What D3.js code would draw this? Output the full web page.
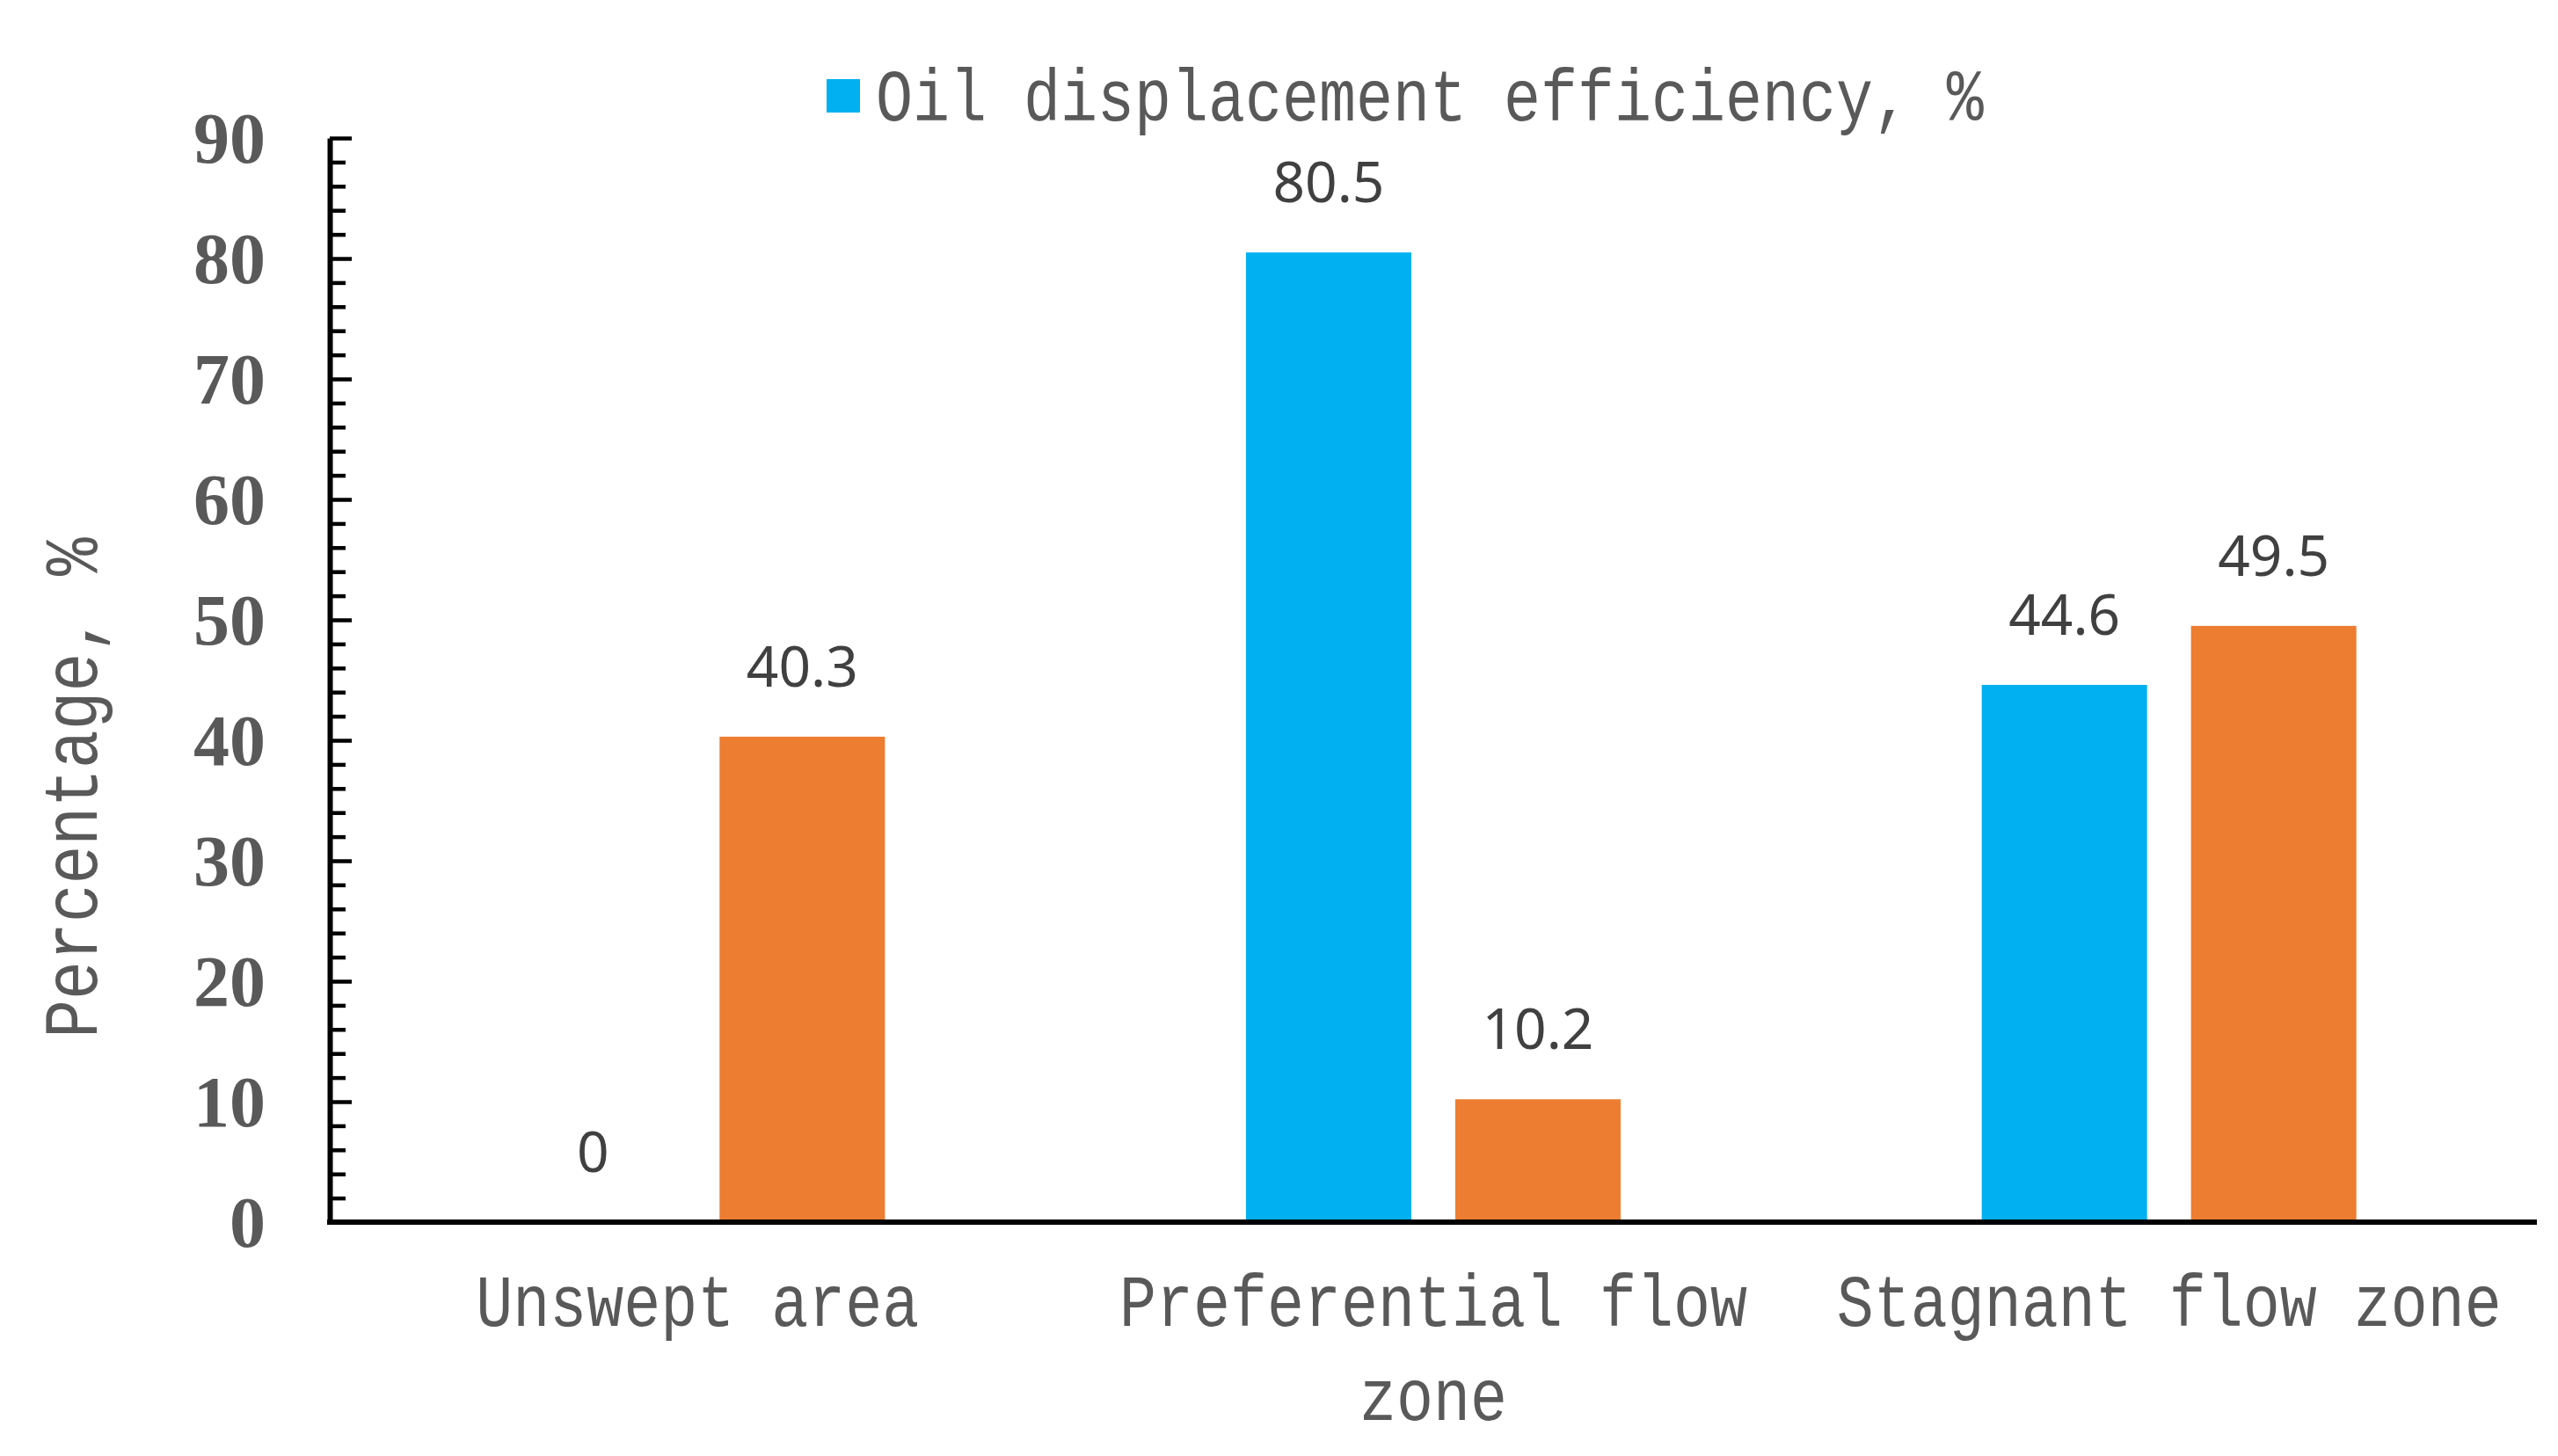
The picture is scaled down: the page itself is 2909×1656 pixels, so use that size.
<!DOCTYPE html>
<html>
<head>
<meta charset="utf-8">
<script src="https://cdn.jsdelivr.net/npm/d3@7"></script>
<style>
  html, body { margin: 0; padding: 0; background: #ffffff; }
  svg { display: block; }
</style>
</head>
<body>
<svg id="chart" width="2909" height="1656"></svg>
<script>
// ---- data ----
const categories = ["Unswept area", "Preferential flow zone", "Stagnant flow zone"];
const seriesNames = ["Oil displacement efficiency, %", "Share, %"];
const oilDisplacementEfficiency = [0, 80.5, 44.6];
const secondSeries = [40.3, 10.2, 49.5];
const yTicks = [0, 10, 20, 30, 40, 50, 60, 70, 80, 90];
const legendEntries = ["Oil displacement efficiency, %"];
const yTitle = "Percentage, %";

const colors = ["#00B0F0", "#ED7D31"];
const textGray = "#595959";
const labelGray = "#404040";
const monoFont = "'Liberation Mono', 'DejaVu Sans Mono', monospace";
const stretch = 1.2;

const svg = d3.select("#chart");
const W = 2909, H = 1656;
svg.append("rect").attr("width", W).attr("height", H).attr("fill", "#fff");

const plot = { left: 375, right: 2885, top: 157, bottom: 1390 };

const x = d3.scaleBand().domain(categories).range([plot.left, plot.right]).paddingInner(0).paddingOuter(0);
const xs = d3.scaleBand().domain([0, 1]).range([0, x.bandwidth()]).paddingInner(0.21).paddingOuter(0.8627);
const y = d3.scaleLinear().domain([0, 90]).range([plot.bottom, plot.top]);

const rows = categories.map((c, i) => ({ cat: c, vals: [oilDisplacementEfficiency[i], secondSeries[i]] }));

// ---- bars ----
const groups = svg.append("g").selectAll("g").data(rows).join("g")
  .attr("transform", d => `translate(${x(d.cat)},0)`);
groups.selectAll("rect").data(d => d.vals.map((v, k) => ({ v, k }))).join("rect")
  .attr("x", d => xs(d.k))
  .attr("width", xs.bandwidth())
  .attr("y", d => y(d.v))
  .attr("height", d => y(0) - y(d.v))
  .attr("fill", d => colors[d.k]);

// ---- data labels ----
groups.selectAll("text.val").data(d => d.vals.map((v, k) => ({ v, k }))).join("text")
  .attr("class", "val")
  .attr("x", d => xs(d.k) + xs.bandwidth() / 2)
  .attr("y", d => y(d.v) - 57)
  .attr("text-anchor", "middle")
  .attr("font-family", "'Noto Sans', 'Open Sans', sans-serif")
  .attr("font-size", 64)
  .attr("fill", labelGray)
  .text(d => String(d.v));

// ---- y axis ----
const minorTicks = d3.range(0, 91, 2).filter(v => v % 10 !== 0);
const yMinor = svg.append("g").attr("transform", `translate(${plot.left},0)`)
  .call(d3.axisLeft(y).tickValues(minorTicks).tickSize(-18).tickFormat(""));
yMinor.select(".domain").remove();
yMinor.selectAll(".tick line").attr("stroke", "#000").attr("stroke-width", 4.5);

const yMajor = svg.append("g").attr("transform", `translate(${plot.left},0)`)
  .call(d3.axisLeft(y).tickValues(yTicks).tickSize(-25).tickSizeOuter(0).tickPadding(73).tickFormat(d3.format("d")));
yMajor.select(".domain").attr("stroke", "#000").attr("stroke-width", 6);
yMajor.selectAll(".tick line").attr("stroke", "#000").attr("stroke-width", 4.5);
yMajor.selectAll(".tick text")
  .attr("font-family", "'Liberation Serif', 'Times New Roman', serif")
  .attr("font-weight", "bold")
  .attr("font-size", 82)
  .attr("fill", textGray)
  .attr("dy", "0.34em");

// ---- x axis ----
const xAxis = svg.append("g").attr("transform", `translate(0,${plot.bottom})`)
  .call(d3.axisBottom(x).tickSize(0).tickSizeOuter(0).tickFormat(""));
xAxis.select(".domain").attr("stroke", "#000").attr("stroke-width", 6)
  .attr("d", `M${plot.left - 3},0H${plot.right}`);

// stretched mono text helper
function monoText(parent, tx, ty, str, size, anchor, rotate) {
  const g = parent.append("g")
    .attr("transform", `translate(${tx},${ty})` + (rotate ? ` rotate(${rotate})` : "") + ` scale(1,${stretch})`);
  return g.append("text")
    .attr("x", 0).attr("y", 0)
    .attr("text-anchor", anchor)
    .attr("font-family", monoFont)
    .attr("font-size", size)
    .attr("fill", textGray)
    .text(str);
}

// category labels with wrapping
const measure = svg.append("text").attr("font-family", monoFont).attr("font-size", 70).attr("visibility", "hidden");
function wrapLines(str, maxW) {
  const words = str.split(" ");
  const lines = [];
  let cur = "";
  words.forEach(w => {
    const t = cur ? cur + " " + w : w;
    measure.text(t);
    if (measure.node().getComputedTextLength() > maxW && cur) { lines.push(cur); cur = w; }
    else cur = t;
  });
  if (cur) lines.push(cur);
  return lines;
}
const catLayer = svg.append("g");
categories.forEach(c => {
  const lines = wrapLines(c, x.bandwidth() - 20);
  lines.forEach((ln, i) => {
    monoText(catLayer, x(c) + x.bandwidth() / 2, 1508 + i * 107, ln, 70, "middle");
  });
});
measure.remove();

// y title
monoText(svg, 110, 896, yTitle, 73, "middle", -90);

// legend
const leg = svg.append("g");
legendEntries.forEach((name, i) => {
  leg.append("rect").attr("x", 940).attr("y", 90).attr("width", 38).attr("height", 38).attr("fill", colors[i]);
  monoText(leg, 996, 137, name, 70, "start");
});
</script>
</body>
</html>
